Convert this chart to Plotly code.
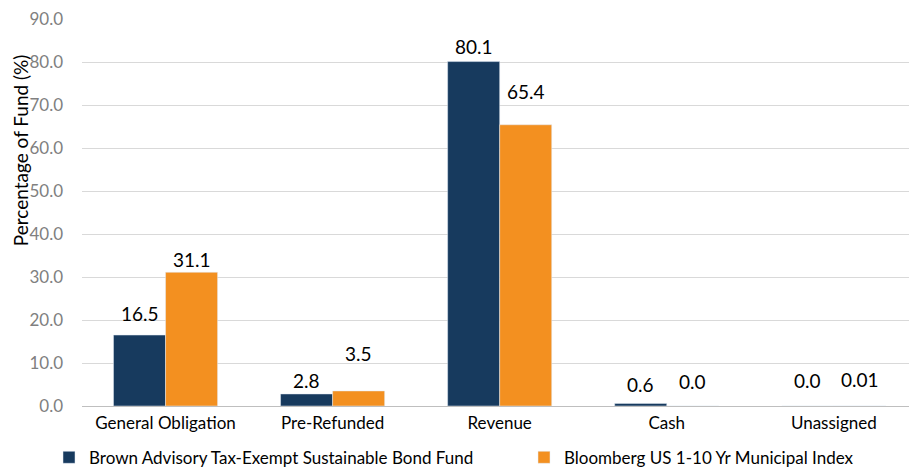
import plotly.graph_objects as go

categories = ["General Obligation", "Pre-Refunded", "Revenue", "Cash", "Unassigned"]
fund_name = "Brown Advisory Tax-Exempt Sustainable Bond Fund"
index_name = "Bloomberg US 1-10 Yr Municipal Index"
fund_values = [16.5, 2.8, 80.1, 0.6, 0.0]
index_values = [31.1, 3.5, 65.4, 0.0, 0.01]
fund_labels = ["16.5", "2.8", "80.1", "0.6", "0.0"]
index_labels = ["31.1", "3.5", "65.4", "0.0", "0.01"]
y_ticks = [0, 10, 20, 30, 40, 50, 60, 70, 80, 90]
y_title = "Percentage of Fund (%)"

# label offsets (pixels above bar top) as placed in the original
fund_label_gap = [22, 13, 15, 19, 26]
index_label_gap = [13, 37, 33, 25, 26]

FONT = "Lato, Open Sans, sans-serif"
NAVY = "#173a5e"
ORANGE = "#f39020"

fig = go.Figure()
fig.add_trace(go.Bar(x=categories, y=fund_values, name=fund_name, marker_color=NAVY,
                     legend="legend"))
fig.add_trace(go.Bar(x=categories, y=index_values, name=index_name, marker_color=ORANGE,
                     legend="legend2"))

for cat, v, t, g in zip(categories, fund_values, fund_labels, fund_label_gap):
    fig.add_annotation(x=cat, y=v, text=t, xref="x", yref="y", xshift=-26, yshift=g,
                       yanchor="middle", showarrow=False,
                       font=dict(size=19, family=FONT, color="#000000"))
for cat, v, t, g in zip(categories, index_values, index_labels, index_label_gap):
    fig.add_annotation(x=cat, y=v, text=t, xref="x", yref="y", xshift=26, yshift=g,
                       yanchor="middle", showarrow=False,
                       font=dict(size=19, family=FONT, color="#000000"))

# y-axis title (placed off-centre, as in the original)
fig.add_annotation(text=y_title, xref="paper", yref="paper", x=-0.075, y=0.661,
                   xanchor="center", yanchor="middle", textangle=-90, showarrow=False,
                   font=dict(size=19, family=FONT, color="#000000"))

legend_common = dict(
    orientation="h", xref="container", yref="container",
    y=0.024, xanchor="left", yanchor="middle", bgcolor="rgba(0,0,0,0)",
    font=dict(size=17, family=FONT, color="#000000"), itemwidth=30,
)

fig.update_layout(
    width=909, height=469,
    margin=dict(l=82, r=0, t=19, b=63, autoexpand=False),
    paper_bgcolor="white", plot_bgcolor="white",
    barmode="group", bargap=0.377, bargroupgap=0,
    font=dict(family=FONT, size=17, color="#000000"),
    showlegend=True,
    legend=dict(x=49 / 909, **legend_common),
    legend2=dict(x=524 / 909, **legend_common),
    xaxis=dict(
        range=[-0.5, 4.45], showgrid=False, showline=False, ticks="",
        automargin=False, ticklabelstandoff=5,
        tickfont=dict(size=17, family=FONT, color="#000000"),
    ),
    yaxis=dict(
        range=[0, 90], tickvals=y_ticks, tickformat=".1f",
        showgrid=True, gridcolor="#d9d9d9", gridwidth=1,
        zeroline=True, zerolinecolor="#bfbfbf", zerolinewidth=1,
        automargin=False, ticklabelstandoff=18,
        tickfont=dict(size=17, family=FONT, color="#808080"),
        ticks="",
    ),
)

fig.write_html("out.html", config={"displayModeBar": False},
               post_script="document.body.style.margin='0';")
